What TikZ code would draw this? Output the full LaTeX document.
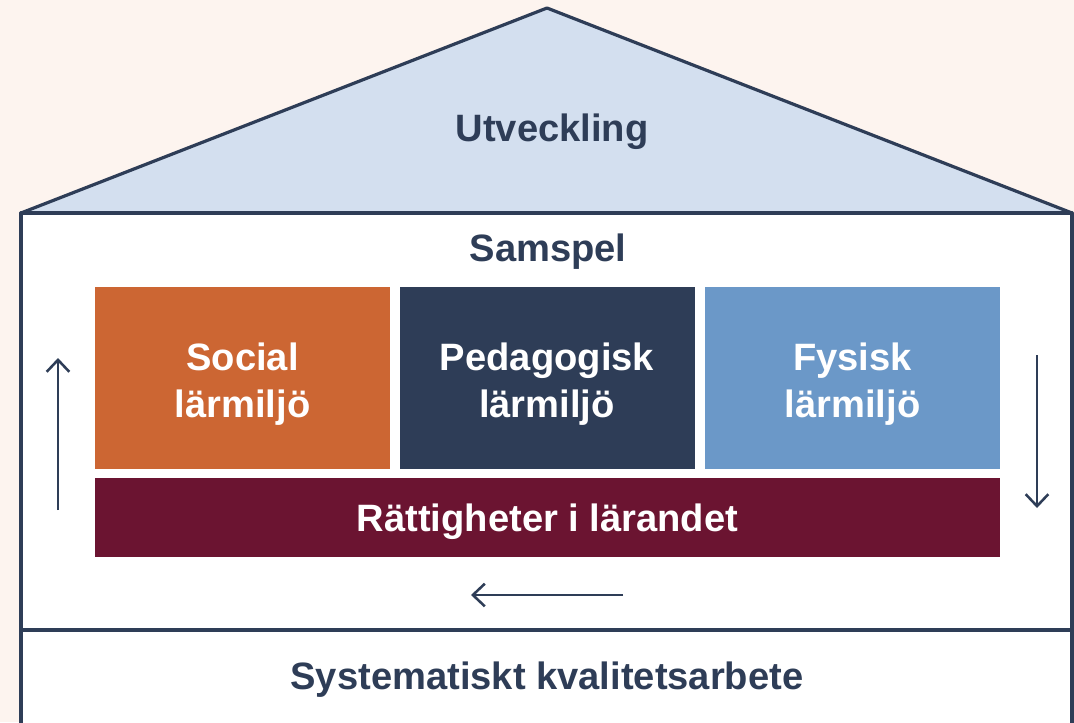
\documentclass[tikz,border=0pt]{standalone}
\usepackage{fontspec}
\setmainfont{Liberation Sans}
\usepackage{tikz}
\usetikzlibrary{arrows.meta}
\definecolor{peach}{HTML}{FDF4EF}
\definecolor{roof}{HTML}{D3DFEF}
\definecolor{navy}{HTML}{2E3D57}
\definecolor{orange}{HTML}{CC6633}
\definecolor{skyblue}{HTML}{6B98C8}
\definecolor{maroon}{HTML}{6B1431}
\tikzset{>={Straight Barb[length=9pt,width=17pt]}}

\begin{document}
\begin{tikzpicture}[x=0.75pt,y=-0.75pt,
  label/.style={font=\fontsize{28.6}{35}\selectfont\bfseries, align=center},
  pillar/.style={inner sep=0pt, minimum width=221.25pt, minimum height=136.5pt},
  outline/.style={draw=navy, line width=2.4pt, line join=round},
  flow/.style={->, draw=navy, line width=1.9pt}]
\useasboundingbox (0,0) rectangle (1074,722);
\fill[peach] (0,0) rectangle (1074,722);
\clip (0,0) rectangle (1074,722);
% roof and body
\filldraw[outline, fill=roof] (21,213) -- (547,8) -- (1072,213) -- cycle;
\filldraw[outline, fill=white] (21,213) rectangle (1072,740);
\draw[outline] (21,630) -- (1072,630);
\node[label, text=navy] (utv) at (552,132) {Utveckling};
\node[label, text=navy] (samspel) at (548,252) {Samspel};
\node[label, text=navy] (kval) at (547,680) {Systematiskt kvalitetsarbete};
% the three environments
\node[pillar, fill=orange] (social) at (242.5,378) {};
\node[pillar, fill=navy] (pedag) at (547,378) {};
\node[pillar, fill=skyblue] (fysisk) at (852.5,378) {};
\node[pillar, fill=maroon, minimum width=678.75pt, minimum height=59.25pt] (ratt) at (547.5,517.5) {};
\node[label, text=white] (socialtxt) at ([yshift=-4.5pt]social.center) {Social\\lärmiljö};
\node[label, text=white] (pedagtxt) at ([yshift=-4.5pt]pedag.center) {Pedagogisk\\lärmiljö};
\node[label, text=white] (fysisktxt) at ([yshift=-4.5pt]fysisk.center) {Fysisk\\lärmiljö};
\node[label, text=white] (ratttxt) at ([yshift=-3pt]ratt.center) {Rättigheter i lärandet};
% circulation
\coordinate (upS) at (58,510);
\coordinate (upE) at (58,358);
\coordinate (dnS) at (1037,355);
\coordinate (dnE) at (1037,508);
\coordinate (lfS) at (623,595);
\coordinate (lfE) at (471,595);
\draw[flow] (upS) -- (upE);
\draw[flow] (dnS) -- (dnE);
\draw[flow] (lfS) -- (lfE);
\end{tikzpicture}
\end{document}
